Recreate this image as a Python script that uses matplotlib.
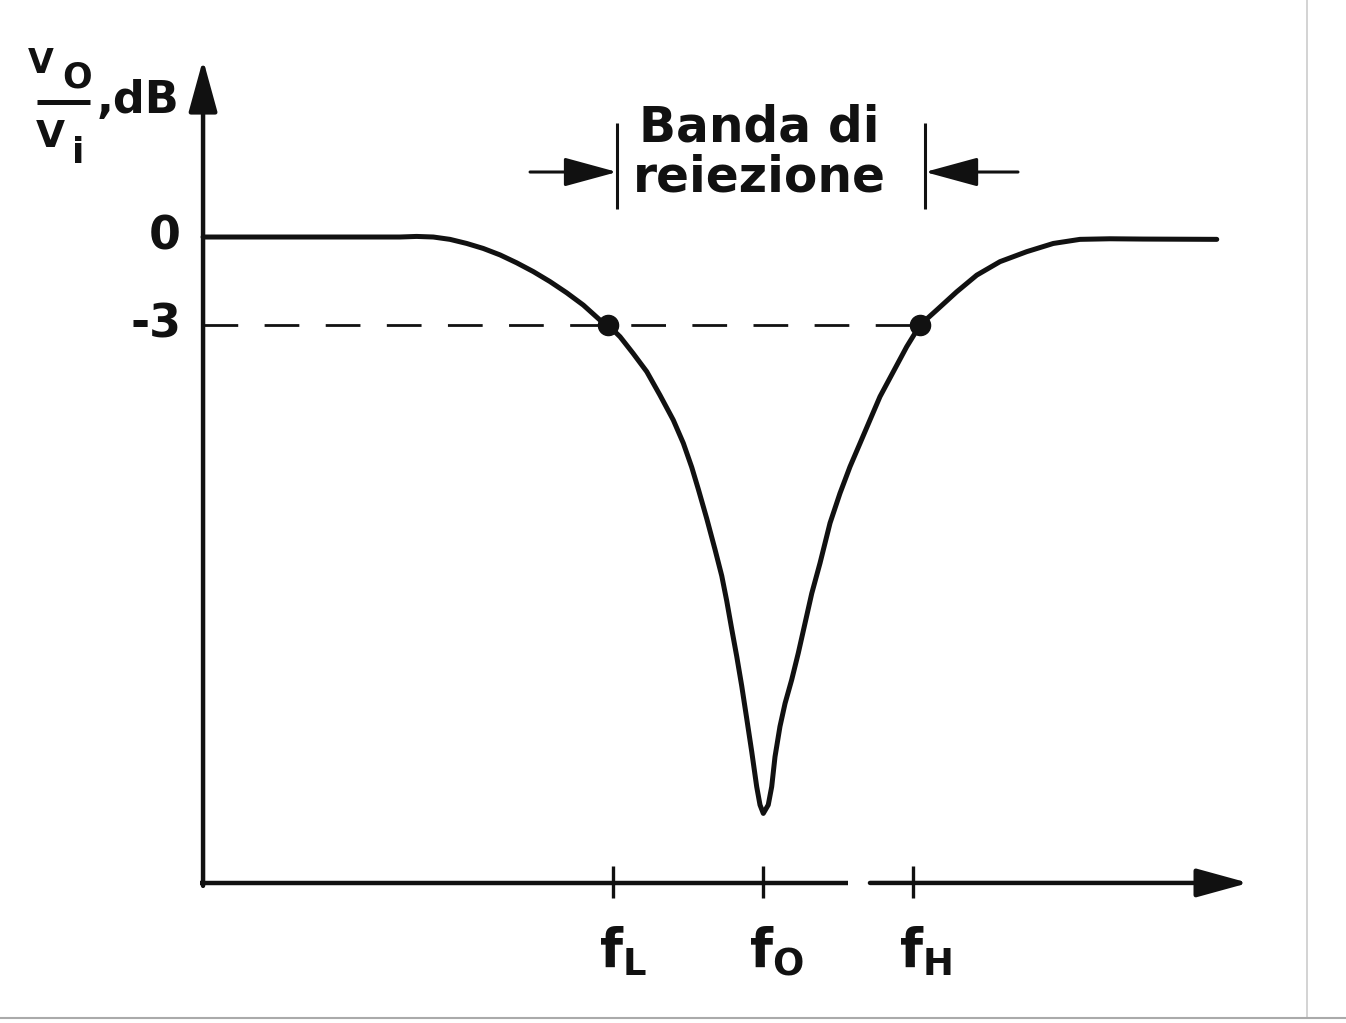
import matplotlib
matplotlib.use("Agg")
import matplotlib.pyplot as plt
from matplotlib.lines import Line2D

plt.rcParams['font.family'] = ['DejaVu Sans']

# frequency axis in arbitrary units (f0 = 5), gain in dB
f_L, f_0, f_H = 4.0, 5.0, 6.0
tick_freqs = [f_L, f_0, f_H]
tick_names = ['$\\mathbf{f_L}$', '$\\mathbf{f_O}$', '$\\mathbf{f_H}$']

# response curve
freq_left = [1.267, 1.913, 2.580, 2.691, 2.802, 2.913, 3.025, 3.135, 3.247,
             3.358, 3.469, 3.580, 3.691, 3.802, 3.913, 3.967, 4.047, 4.133,
             4.225, 4.313, 4.402, 4.469, 4.525, 4.569, 4.625, 4.680, 4.725,
             4.758, 4.791, 4.825, 4.858, 4.891, 4.925, 4.958, 4.980, 5.002]
gain_left = [0.0, 0.0, 0.0, 0.02, 0.0, -0.08, -0.22, -0.39, -0.61,
             -0.88, -1.18, -1.52, -1.90, -2.32, -2.83, -3.0, -3.40, -3.96,
             -4.59, -5.39, -6.24, -7.03, -7.85, -8.60, -9.60, -10.65, -11.55,
             -12.40, -13.35, -14.30, -15.30, -16.40, -17.55, -18.74, -19.36, -19.65]
freq_right = [5.035, 5.058, 5.080, 5.113, 5.147, 5.191, 5.235, 5.280, 5.325,
              5.380, 5.447, 5.513, 5.580, 5.647, 5.713, 5.780, 5.869,
              5.958, 6.047, 6.158, 6.291, 6.425, 6.580, 6.758, 6.935, 7.113,
              7.313, 7.533, 8.025]
gain_right = [-19.36, -18.74, -17.72, -16.69, -15.90, -15.10, -14.19, -13.17,
              -12.15, -11.12, -9.75, -8.74, -7.83, -7.03, -6.24, -5.44,
              -4.59, -3.74, -3.0, -2.49, -1.87, -1.30, -0.84, -0.50, -0.22,
              -0.08, -0.06, -0.07, -0.08]

freq = freq_left + freq_right
gain = gain_left + gain_right

cut_freqs = [3.967, 6.047]      # -3 dB points
cut_gain = -3.0
y_ticks = [0, -3]
y_tick_labels = ['0', '-3']

x_origin = 1.267
y_floor = -22.02

ink = '#111111'

fig = plt.figure(figsize=(13.46, 10.23), dpi=100)
ax = fig.add_axes([0, 0, 1, 1])
ax.set_xlim(-0.0867, 8.8867)
ax.set_ylim(-26.795, 8.08)
ax.axis('off')

# axes with arrow heads
arrow = dict(arrowstyle='-|>,head_length=0.8,head_width=0.22', lw=3.2,
             color=ink, shrinkA=0, shrinkB=0, mutation_scale=40)
ax.annotate('', xy=(x_origin, 6.05), xytext=(x_origin, y_floor - 0.1),
            arrowprops=arrow)
ax.plot([x_origin - 0.02, 5.567], [y_floor, y_floor], color=ink, lw=3.2,
        solid_capstyle='butt')
ax.annotate('', xy=(8.237, y_floor), xytext=(5.713, y_floor), arrowprops=arrow)

# frequency ticks and labels
ax.vlines(tick_freqs, -21.45, -22.54, color=ink, lw=2.4)
for f, name in zip(tick_freqs, tick_names):
    ax.annotate(name, xy=(f, y_floor), xytext=(-10, -30),
                textcoords='offset points', ha='left', va='top',
                fontsize=38, color=ink)

# gain tick labels
for yv, lab in zip(y_ticks, y_tick_labels):
    ax.text(1.12, yv, lab, ha='right', va='center', fontsize=33,
            fontweight='bold', color=ink)

# -3 dB dashed reference line
ax.plot([x_origin, cut_freqs[1]], [cut_gain, cut_gain], color=ink, lw=2.0,
        ls=(0, (12.5, 9.5)))

# response
ax.plot(freq, gain, color=ink, lw=3.6, solid_joinstyle='round',
        solid_capstyle='round')
ax.plot(cut_freqs, [cut_gain, cut_gain], 'o', color=ink, ms=14.5)

# y-axis label Vo/Vi, dB
ax.text(0.10, 5.59, 'V', ha='left', va='baseline', fontsize=24,
        fontweight='bold', color=ink)
ax.text(0.33, 5.11, 'O', ha='left', va='baseline', fontsize=25,
        fontweight='bold', color=ink)
ax.plot([0.16, 0.513], [4.60, 4.60], color=ink, lw=3.6, solid_capstyle='butt')
ax.text(0.15, 3.07, 'V', ha='left', va='baseline', fontsize=27,
        fontweight='bold', color=ink)
ax.text(0.39, 2.52, 'i', ha='left', va='baseline', fontsize=26,
        fontweight='bold', color=ink)
ax.text(0.56, 4.23, ',dB', ha='left', va='baseline', fontsize=32,
        fontweight='bold', color=ink)

# rejection band annotation
band_edges = [4.027, 6.08]
ax.vlines(band_edges, 0.955, 3.886, color=ink, lw=2.2)
small_arrow = dict(arrowstyle='-|>,head_length=1.1,head_width=0.3', lw=2.2,
                   color=ink, shrinkA=0, shrinkB=0, mutation_scale=30)
ax.annotate('', xy=(band_edges[0], 2.216), xytext=(3.447, 2.216),
            arrowprops=small_arrow)
ax.annotate('', xy=(band_edges[1], 2.216), xytext=(6.70, 2.216),
            arrowprops=small_arrow)
ax.text(4.973, 3.25, 'Banda di', ha='center', va='baseline', fontsize=35,
        fontweight='bold', color=ink)
ax.text(4.973, 1.55, 'reiezione', ha='center', va='baseline', fontsize=35,
        fontweight='bold', color=ink)

# page edges from the scan
fig.add_artist(Line2D([0.971, 0.971], [0.005, 1.0], color='#cccccc', lw=1.2))
fig.add_artist(Line2D([0, 1], [0.005, 0.005], color='#aaaaaa', lw=1.5))

fig.savefig('out.png', dpi=100, facecolor='white')
